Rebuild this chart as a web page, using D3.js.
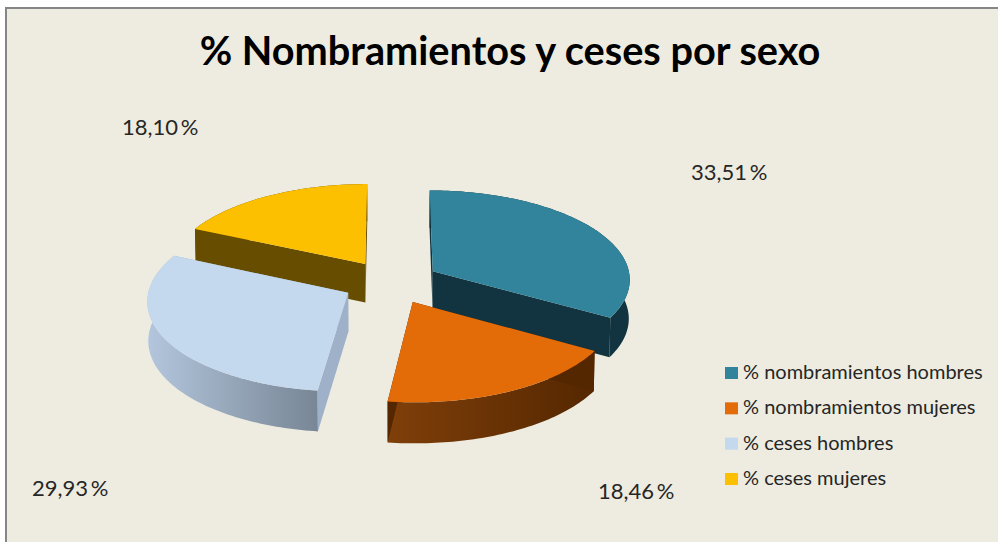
<!DOCTYPE html>
<html>
<head>
<meta charset="utf-8">
<script src="https://cdn.jsdelivr.net/npm/d3@7"></script>
<style>
  html, body { margin: 0; padding: 0; background: #fff; }
  svg { display: block; }
  text { font-family: Lato, "Open Sans", sans-serif; fill: #262626; }
  .chart-title { font-size: 39.7px; font-weight: 700; fill: #000; text-anchor: middle; }
  .data-label { font-size: 22px; word-spacing: -3px; }
  .legend-label { font-size: 20px; }
</style>
</head>
<body>
<svg id="chart" width="998" height="542"></svg>
<script>
var categories = ["% nombramientos hombres", "% nombramientos mujeres", "% ceses hombres", "% ceses mujeres"];
var values = [33.51, 18.46, 29.93, 18.10];
var topColors = ["#31849b", "#e36c09", "#c4d8ee", "#fdc000"];
var rimColors = [["#123440", "#123440"], ["#7f3f0a", "#552700"], ["#b3c6dd", "#788695"], ["#664d00", "#664d00"]];
var cutColors = ["#123440", "#552700", "#9eb1c8", "#664d00"];
var labelPos = [[691, 180], [598, 499], [32, 496], [122, 135]];

var width = 998, height = 542;
var svg = d3.select("#chart");

// Plot frame
svg.append("rect")
  .attr("x", 6).attr("y", 8)
  .attr("width", width).attr("height", height)
  .attr("fill", "#eeece1")
  .attr("stroke", "#868686")
  .attr("stroke-width", 2);

svg.append("text")
  .attr("class", "chart-title")
  .attr("x", 510).attr("y", 65)
  .text("% Nombramientos y ceses por sexo");

// Perspective numbers for the tilted pie
var cx = 391, cy = 282, rx = 198, ry = 89, depth = 39, persp = 0.08, explode = 0.245;

function project(angle, r, mid, level) {
  var x = r * Math.sin(angle) + explode * Math.sin(mid);
  var z = r * Math.cos(angle) + explode * Math.cos(mid);
  var s = 1 / (1 + persp * z);
  var shrink = level ? 0.996 : 1;
  return [cx + rx * x * s * shrink, cy - ry * z * s + level * depth * Math.sqrt(s)];
}

var pie = d3.pie().sort(null).value(function(d) { return d; });
var arcs = pie(values).map(function(d, i) {
  return { index: i, start: d.startAngle, end: d.endAngle, mid: (d.startAngle + d.endAngle) / 2 };
});

var line = d3.line();

function rimPoints(d, level) {
  var n = Math.ceil((d.end - d.start) / 0.02);
  return d3.range(n + 1).map(function(j) {
    return project(d.start + (d.end - d.start) * j / n, 1, d.mid, level);
  });
}

var defs = svg.append("defs");
arcs.forEach(function(d) {
  var grad = defs.append("linearGradient")
    .attr("id", "rim-" + d.index)
    .attr("x1", 0).attr("x2", 1).attr("y1", 0).attr("y2", 0);
  grad.append("stop").attr("offset", 0).attr("stop-color", rimColors[d.index][0]);
  grad.append("stop").attr("offset", 1).attr("stop-color", rimColors[d.index][1]);
});

// Back slices go first so the front ones cover their walls
var order = [3, 0, 2, 1];
var pieG = svg.append("g");

order.forEach(function(i) {
  var d = arcs[i];
  var g = pieG.append("g").attr("class", "slice");

  // Outer wall
  var top = rimPoints(d, 0);
  var bottom = rimPoints(d, 1).reverse();
  g.append("path")
    .attr("d", line(top.concat(bottom)) + "Z")
    .attr("fill", "url(#rim-" + i + ")");

  // Two cut walls
  [d.start, d.end].forEach(function(a) {
    var wall = [project(a, 0, d.mid, 0), project(a, 1, d.mid, 0), project(a, 1, d.mid, 1), project(a, 0, d.mid, 1)];
    g.append("path")
      .attr("d", line(wall) + "Z")
      .attr("fill", cutColors[i]);
  });

  // Top face
  g.append("path")
    .attr("d", line([project(0, 0, d.mid, 0)].concat(top)) + "Z")
    .attr("fill", topColors[i]);
});

svg.selectAll(".data-label")
  .data(values)
  .enter().append("text")
  .attr("class", "data-label")
  .attr("x", function(d, i) { return labelPos[i][0]; })
  .attr("y", function(d, i) { return labelPos[i][1]; })
  .text(function(d) { return d.toFixed(2).replace(".", ",") + " %"; });

// Legend
var legendY = d3.scalePoint().domain(categories).range([373, 479]);
var legend = svg.selectAll(".legend")
  .data(categories)
  .enter().append("g")
  .attr("class", "legend")
  .attr("transform", function(d) { return "translate(725," + legendY(d) + ")"; });

legend.append("rect")
  .attr("x", 0).attr("y", -6)
  .attr("width", 13).attr("height", 12)
  .attr("fill", function(d, i) { return topColors[i]; });

legend.append("text")
  .attr("class", "legend-label")
  .attr("x", 18).attr("y", 6)
  .text(function(d) { return d; });
</script>
</body>
</html>
